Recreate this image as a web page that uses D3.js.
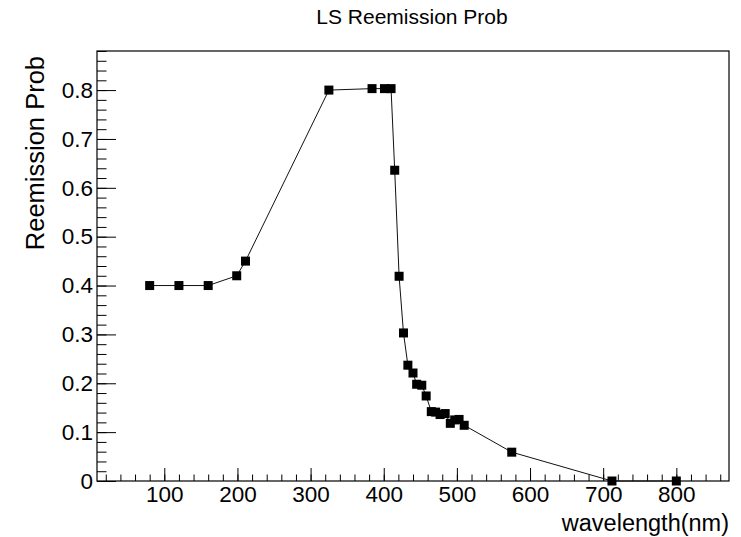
<!DOCTYPE html>
<html>
<head>
<meta charset="utf-8">
<script src="https://cdn.jsdelivr.net/npm/d3@7"></script>
<style>
    body { margin: 0; background: #fff; }
    svg text { font-family: "Liberation Sans", Arial, sans-serif; fill: #000; }
    .axis path.domain { display: none; }
    .axis line { stroke: #000; stroke-width: 1; }
</style>
</head>
<body>
<div id="chart"></div>
<script>
// data
var wavelength = [80, 120, 160, 199, 211, 325, 384, 401, 410, 415, 421, 427, 433, 440, 445, 452, 458,
    465, 471, 477, 484, 491, 497, 503, 510, 575, 712, 800];
var reemProb = [0.40, 0.40, 0.40, 0.42, 0.45, 0.80, 0.803, 0.803, 0.803, 0.636, 0.419, 0.303, 0.237, 0.221, 0.198, 0.196, 0.174,
    0.142, 0.141, 0.136, 0.138, 0.118, 0.125, 0.126, 0.114, 0.059, 0.0, 0.0];
var xTicks = [100, 200, 300, 400, 500, 600, 700, 800];
var yTicks = [0, 0.1, 0.2, 0.3, 0.4, 0.5, 0.6, 0.7, 0.8];
var titleText = "LS Reemission Prob";
var xTitle = "wavelength(nm)";
var yTitle = "Reemission Prob";

var width = 741, height = 537;
var margin = { top: 51, right: 12, bottom: 56, left: 97 };

var svg = d3.select("#chart").append("svg")
    .attr("width", width)
    .attr("height", height);

// ROOT style ranges: data range padded by 10%
var x = d3.scaleLinear().domain([8, 872]).range([margin.left, width - margin.right]);
var y = d3.scaleLinear().domain([0, 0.88]).range([height - margin.bottom, margin.top]);

var fh = height - margin.top - margin.bottom,
    fw = width - margin.left - margin.right;

// minor ticks
svg.append("g")
    .attr("class", "axis")
    .attr("transform", "translate(0," + (height - margin.bottom) + ")")
    .call(d3.axisBottom(x).tickValues(d3.range(20, 872, 20)).tickSize(-6.5).tickFormat(""));

svg.append("g")
    .attr("class", "axis")
    .attr("transform", "translate(" + margin.left + ",0)")
    .call(d3.axisLeft(y).tickValues(d3.range(0, 0.881, 0.02)).tickSize(-9.5).tickFormat(""));

// major ticks + labels
svg.append("g")
    .attr("class", "axis")
    .attr("transform", "translate(0," + (height - margin.bottom) + ")")
    .call(d3.axisBottom(x).tickValues(xTicks).tickSize(-13).tickPadding(5));

svg.append("g")
    .attr("class", "axis")
    .attr("transform", "translate(" + margin.left + ",0)")
    .call(d3.axisLeft(y).tickValues(yTicks).tickSize(-19).tickPadding(4)
        .tickFormat(function (d) { return d === 0 ? "0" : d3.format(".1f")(d); }));

svg.selectAll(".axis text")
    .style("font-size", "22.5px")
    .style("font-family", "'Liberation Sans', Arial, sans-serif")
    .attr("fill", "#000");

// frame
svg.append("rect")
    .attr("x", margin.left)
    .attr("y", margin.top)
    .attr("width", fw)
    .attr("height", fh)
    .attr("fill", "none")
    .attr("stroke", "#000")
    .attr("stroke-width", 1.2);

// graph line
var line = d3.line()
    .x(function (d, i) { return x(wavelength[i]); })
    .y(function (d) { return y(d); });

svg.append("path")
    .datum(reemProb)
    .attr("d", line)
    .attr("fill", "none")
    .attr("stroke", "#111")
    .attr("stroke-width", 1);

// markers
var ms = 9;
svg.selectAll("rect.marker")
    .data(reemProb)
    .enter().append("rect")
    .attr("class", "marker")
    .attr("x", function (d, i) { return x(wavelength[i]) - ms / 2; })
    .attr("y", function (d) { return y(d) - ms / 2; })
    .attr("width", ms)
    .attr("height", ms)
    .attr("fill", "#000");

// titles
svg.append("text")
    .attr("x", 412)
    .attr("y", 24)
    .attr("text-anchor", "middle")
    .style("font-size", "21px")
    .text(titleText);

svg.append("text")
    .attr("x", width - margin.right)
    .attr("y", 531)
    .attr("text-anchor", "end")
    .style("font-size", "23.5px")
    .text(xTitle);

svg.append("text")
    .attr("transform", "translate(44,56) rotate(-90)")
    .attr("text-anchor", "end")
    .style("font-size", "25.5px")
    .text(yTitle);
</script>
</body>
</html>
